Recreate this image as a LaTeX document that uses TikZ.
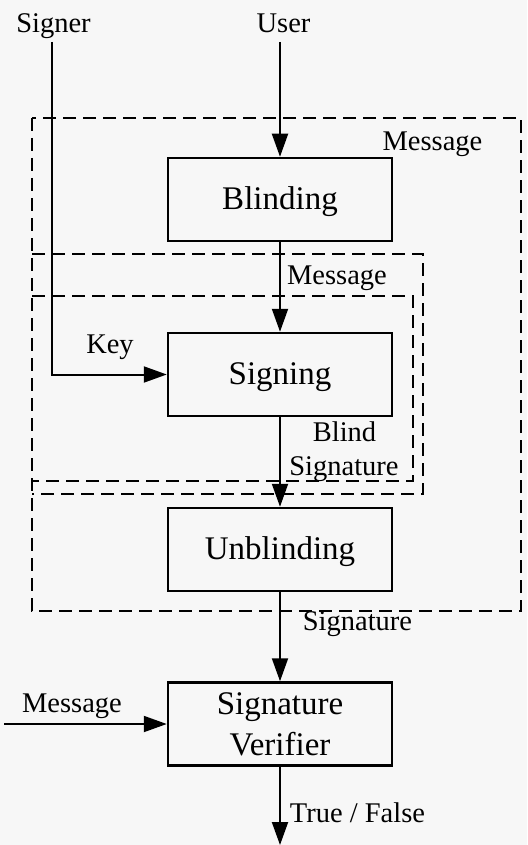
\documentclass[tikz,border=0pt]{standalone}
\usepackage{fontspec}
\setmainfont{Liberation Serif}
\usetikzlibrary{arrows.meta}
\begin{document}
\begin{tikzpicture}[x=1pt,y=-1pt,
  box/.style={draw, line width=2.5pt, minimum width=224pt, minimum height=83pt, inner sep=0pt, font=\fontsize{33}{41}\selectfont, align=center},
  onebox/.style={box, text height=23pt, text depth=4pt},
  lbl/.style={anchor=base, inner sep=0pt, font=\fontsize{28.5}{34}\selectfont},
  arr/.style={line width=2pt, -{Triangle[length=23pt,width=16pt]}},
  grp/.style={draw, line width=1.8pt, dash pattern=on 13pt off 7pt}]
\fill[black!3] (0,0) rectangle (527,845);
\useasboundingbox (0,0) rectangle (527,845);
% dashed groups
\draw[grp] (32,118) rectangle (521,611);
\draw[grp] (32,254) -- (423,254) -- (423,494) -- (32,494);
\draw[grp] (32,296) -- (413,296) -- (413,481) -- (32,481);
% boxes
\node[onebox] (blind) at (280,199.5) {Blinding};
\node[onebox] (sign) at (280,374.5) {Signing};
\node[onebox] (unblind) at (280,549.5) {Unblinding};
\node[box] (verify) at (280,724) {Signature\\Verifier};
% labels
\node[lbl] (signer) at (53.5,33) {Signer};
\node[lbl] (user) at (283.5,33) {User};
\node[lbl] (msg1) at (432.5,151) {Message};
\node[lbl] (msg2) at (337,284) {Message};
\node[lbl] (key) at (110,353) {Key};
\node[lbl] (blindlbl) at (344.5,441) {Blind};
\node[lbl] (bsiglbl) at (344,475) {Signature};
\node[lbl] (siglbl) at (357.5,630) {Signature};
\node[lbl] (msg3) at (72,712) {Message};
\node[lbl] (tf) at (357.5,822) {True / False};
% free ends
\coordinate (signtop) at (52,42);
\coordinate (usertop) at (280,42);
\coordinate (msgin) at (4,724);
\coordinate (out) at (280,845);
% connectors
\draw[arr] (signtop) |- (sign.west);
\draw[arr] (usertop) -- (blind.north);
\draw[arr] (blind.south) -- (sign.north);
\draw[arr] (sign.south) -- (unblind.north);
\draw[arr] (unblind.south) -- (verify.north);
\draw[arr] (msgin) -- (verify.west);
\draw[arr] (verify.south) -- (out);
\end{tikzpicture}
\end{document}
